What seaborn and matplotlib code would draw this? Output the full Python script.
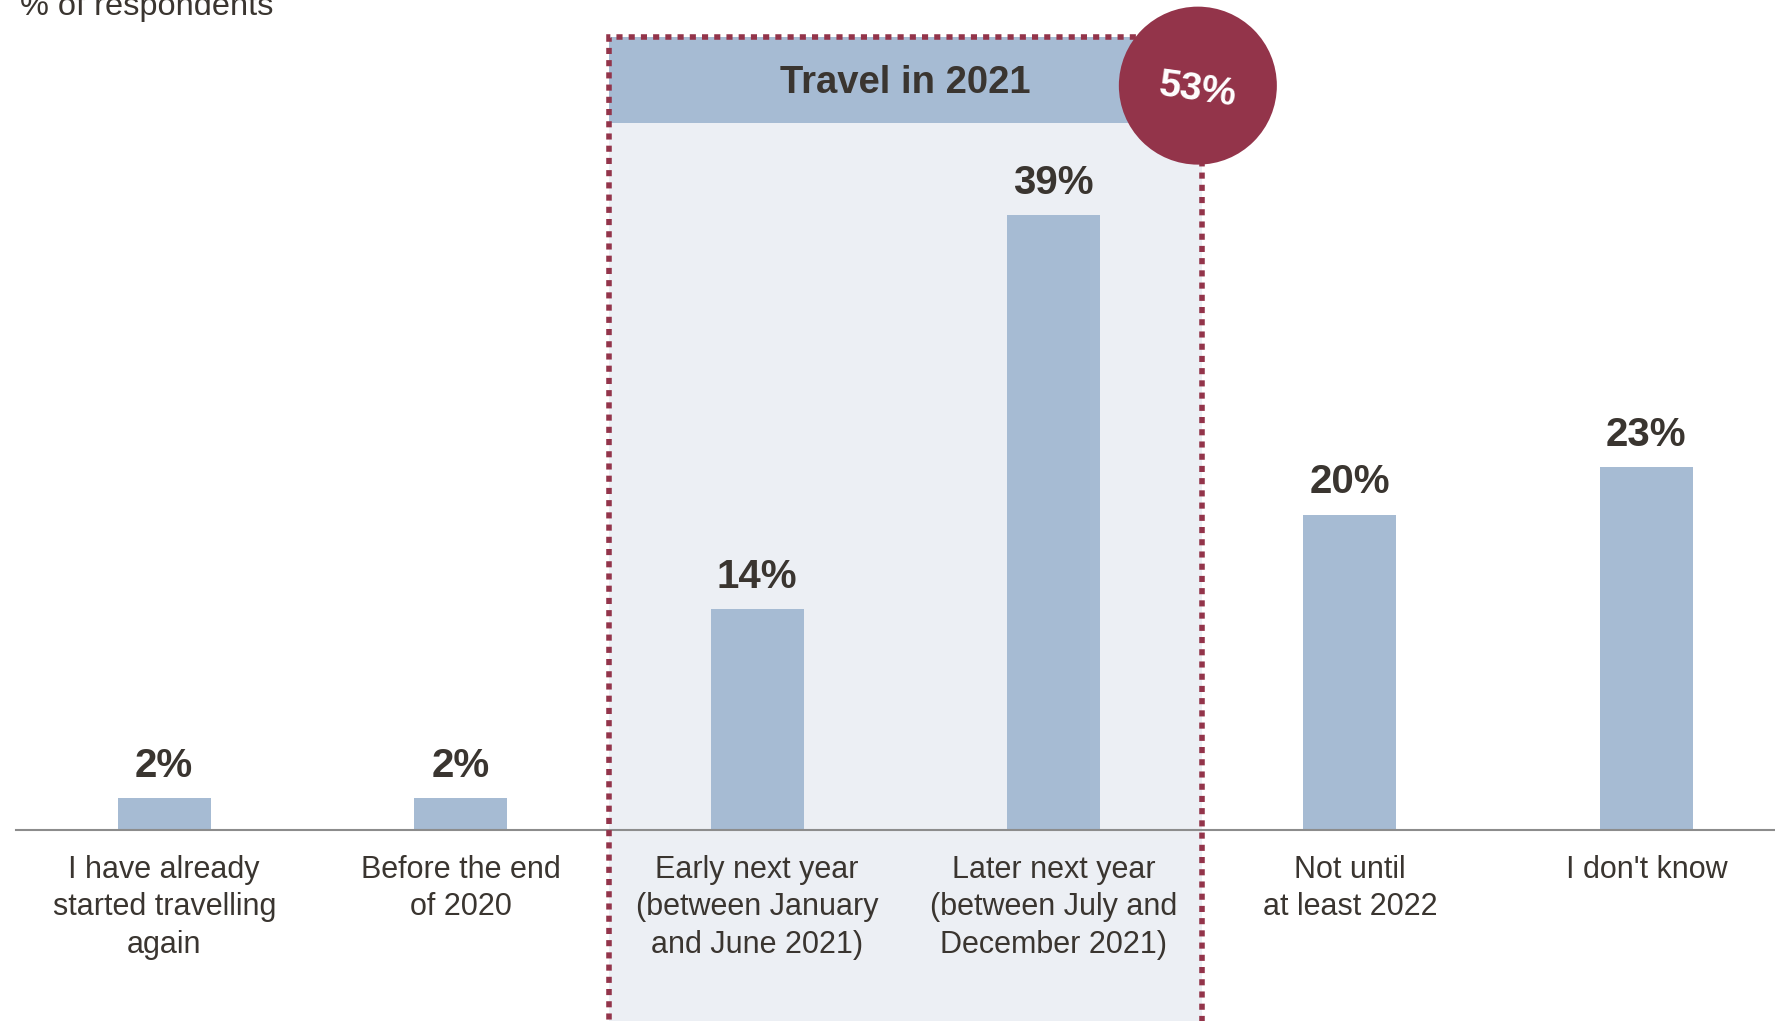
import matplotlib
matplotlib.use("Agg")
import matplotlib.pyplot as plt
from matplotlib import font_manager
from matplotlib.patches import Rectangle, Ellipse
import seaborn as sns
import pandas as pd

# Survey answers: when respondents expect to travel again
categories = [
    "I have already\nstarted travelling\nagain",
    "Before the end\nof 2020",
    "Early next year\n(between January\nand June 2021)",
    "Later next year\n(between July and\nDecember 2021)",
    "Not until\nat least 2022",
    "I don't know",
]
shares = [2, 2, 14, 39, 20, 23]
value_labels = ["2%", "2%", "14%", "39%", "20%", "23%"]
group_title = "Travel in 2021"
group_total = "53%"
y_caption = "% of respondents"

BAR = "#a6bbd3"
SHADE = "#eceff4"
ACCENT = "#93344a"
INK = "#3a3530"
AXIS = "#8c8c8c"

sns.set_theme(style="white")
installed = {f.name for f in font_manager.fontManager.ttflist}
family = "Liberation Sans Narrow" if "Liberation Sans Narrow" in installed else "Liberation Sans"
plt.rcParams["font.family"] = [family, "DejaVu Sans"]

fig = plt.figure(figsize=(17.75, 10.21), dpi=100)
ax = fig.add_axes([16 / 1775, 191 / 1021, 1 - 16 / 1775, 1 - 191 / 1021])

df = pd.DataFrame({"category": categories, "share": shares})
sns.barplot(data=df, x="category", y="share", color=BAR, width=0.314,
            saturation=1, linewidth=0, ax=ax, zorder=2)

ax.set_xlim(-0.5, 5.434)
ax.set_ylim(0, 52.63)

# Shaded group for the 2021 answers, with dotted outline and header band
ax.add_patch(Rectangle((1.5, -14), 2.0, 64.3, facecolor=SHADE, edgecolor="none",
                       zorder=0.5, clip_on=False))
ax.add_patch(Rectangle((1.5, 44.8), 2.0, 5.5, facecolor=BAR, edgecolor="none",
                       zorder=0.6, clip_on=False))
ax.add_patch(Rectangle((1.5, -14), 2.0, 64.3, facecolor="none", edgecolor=ACCENT,
                       linewidth=4.0, linestyle=(0, (1.1, 1.1)), zorder=3,
                       clip_on=False))
ax.text(2.5, 47.35, group_title, ha="center", va="center", fontsize=27.5,
        fontweight="bold", color=INK, zorder=4)

ax.add_patch(Ellipse((3.487, 47.2), 158 / 296.4, 158 / 15.77, facecolor=ACCENT,
                     edgecolor="none", zorder=5, clip_on=False))
ax.text(3.487, 46.9, group_total, ha="center", va="center", fontsize=28,
        fontweight="bold", color="white", rotation=-8, zorder=6)

# Value labels above each bar
for i, (v, lab) in enumerate(zip(shares, value_labels)):
    ax.text(i, v + 1.35, lab, ha="center", va="baseline", fontsize=29,
            fontweight="bold", color=INK, zorder=4)

# Axis styling
for side in ["top", "right", "left"]:
    ax.spines[side].set_visible(False)
ax.spines["bottom"].set_color(AXIS)
ax.spines["bottom"].set_linewidth(1.5)
ax.spines["bottom"].set_zorder(2.5)
ax.set_yticks([])
ax.set_xlabel("")
ax.set_ylabel("")
ax.tick_params(axis="x", length=0, pad=18)
ax.set_xticks(range(len(categories)))
ax.set_xticklabels(categories, fontsize=22, color=INK, linespacing=1.32)

fig.text(20 / 1775, 1 - 15 / 1021, y_caption, ha="left", va="baseline",
         fontsize=23.4, color=INK)

fig.savefig("out.png", dpi=100)
